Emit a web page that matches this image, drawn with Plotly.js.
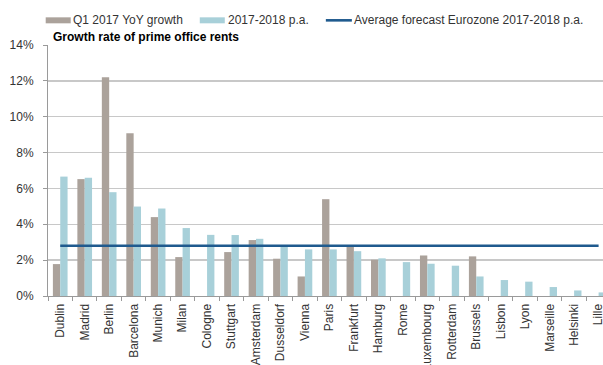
<!DOCTYPE html>
<html>
<head>
<meta charset="utf-8">
<script src="https://cdn.plot.ly/plotly-3.0.1.min.js"></script>
<style>
html,body{margin:0;padding:0;background:#fff;overflow:hidden;}
#chart{width:603px;height:365px;}
</style>
</head>
<body>
<div id="chart"></div>
<script>
const cities = ["Dublin","Madrid","Berlin","Barcelona","Munich","Milan","Cologne","Stuttgart","Amsterdam","Dusseldorf","Vienna","Paris","Frankfurt","Hamburg","Rome","Luxembourg","Rotterdam","Brussels","Lisbon","Lyon","Marseille","Helsinki","Lille"];
const q1YoY = [1.78,6.52,12.2,9.08,4.4,2.17,null,2.45,3.12,2.08,1.09,5.4,2.77,2.02,null,2.26,null,2.21,null,null,null,null,null];
const pa1718 = [6.66,6.59,5.79,4.99,4.88,3.79,3.41,3.4,3.19,2.77,2.6,2.6,2.5,2.1,1.89,1.8,1.69,1.09,0.89,0.8,0.5,0.31,0.2];
const avgEurozone = [2.8,2.8,2.8,2.8,2.8,2.8,2.8,2.8,2.8,2.8,2.8,2.8,2.8,2.8,2.8,2.8,2.8,2.8,2.8,2.8,2.8,2.8,2.8];
const yTicks = [0,2,4,6,8,10,12,14];
const seriesNames = ["Q1 2017 YoY growth","2017-2018 p.a.","Average forecast Eurozone 2017-2018 p.a."];
const colors = ["#ABA29B","#A8D0D9","#1F5A8E"];

const font = "Liberation Sans, Arial, Helvetica, sans-serif";

// plot area geometry (pixels)
const L = 48.3, T = 45, B = 68.7, W = 603, H = 365;
const plotW = W - L, plotH = H - T - B;
const px = p => (p - L) / plotW;
const py = p => (H - B - p) / plotH;

const traces = [
  {type:"bar", name:seriesNames[0], x:cities, y:q1YoY, marker:{color:colors[0]}, showlegend:false},
  {type:"bar", name:seriesNames[1], x:cities, y:pa1718, marker:{color:colors[1]}, showlegend:false},
  {type:"scatter", mode:"lines", name:seriesNames[2], x:cities, y:avgEurozone,
   line:{color:colors[2], width:2.6}, showlegend:false}
];

const legY = 20.3;
const shapes = [
  {type:"rect", xref:"paper", yref:"paper", x0:px(46), x1:px(71), y0:py(17.3), y1:py(23.3),
   fillcolor:colors[0], line:{width:0}},
  {type:"rect", xref:"paper", yref:"paper", x0:px(200), x1:px(225), y0:py(17.3), y1:py(23.3),
   fillcolor:colors[1], line:{width:0}},
  {type:"line", xref:"paper", yref:"paper", x0:px(326), x1:px(352), y0:py(legY), y1:py(legY),
   line:{color:colors[2], width:2.6}}
];

const legText = (t, x) => ({text:t, xref:"paper", yref:"paper", x:px(x), y:py(legY),
  xanchor:"left", yanchor:"middle", showarrow:false, borderpad:0,
  font:{size:12, color:"#333", family:font}});

const layout = {
  width:W, height:H,
  margin:{l:L, r:0, t:T, b:B, pad:0},
  paper_bgcolor:"#fff", plot_bgcolor:"#fff",
  font:{family:font, size:12, color:"#333"},
  barmode:"group", bargap:0.4, bargroupgap:0,
  showlegend:false,
  xaxis:{type:"category", range:[-0.5,22.18], tickangle:-90,
         showline:true, linecolor:"#9a9a9a", linewidth:1,
         ticks:"outside", ticklen:4, tickcolor:"#9a9a9a", tickson:"boundaries",
         ticklabelstandoff:2,
         showgrid:false, tickfont:{size:12, color:"#333"}, automargin:false, fixedrange:true},
  yaxis:{range:[0,14], tickvals:yTicks, ticktext:yTicks.map(v=>v+"%"),
         showline:true, linecolor:"#9a9a9a", linewidth:1,
         ticks:"outside", ticklen:4, tickcolor:"#9a9a9a",
         showgrid:true, gridcolor:"#c8c8c8", gridwidth:1.5, zeroline:false,
         ticklabelstandoff:7, tickfont:{size:12, color:"#333"}, automargin:false, fixedrange:true},
  shapes:shapes,
  annotations:[
    {text:"<b>Growth rate of prime office rents</b>", xref:"paper", yref:"paper",
     x:px(52.5), y:1, xanchor:"left", yanchor:"bottom", showarrow:false, borderpad:0,
     font:{size:12, color:"#000", family:font}},
    legText(seriesNames[0], 72.5),
    legText(seriesNames[1], 227),
    legText(seriesNames[2], 353)
  ]
};

Plotly.newPlot("chart", traces, layout, {displayModeBar:false, staticPlot:true});
</script>
</body>
</html>
